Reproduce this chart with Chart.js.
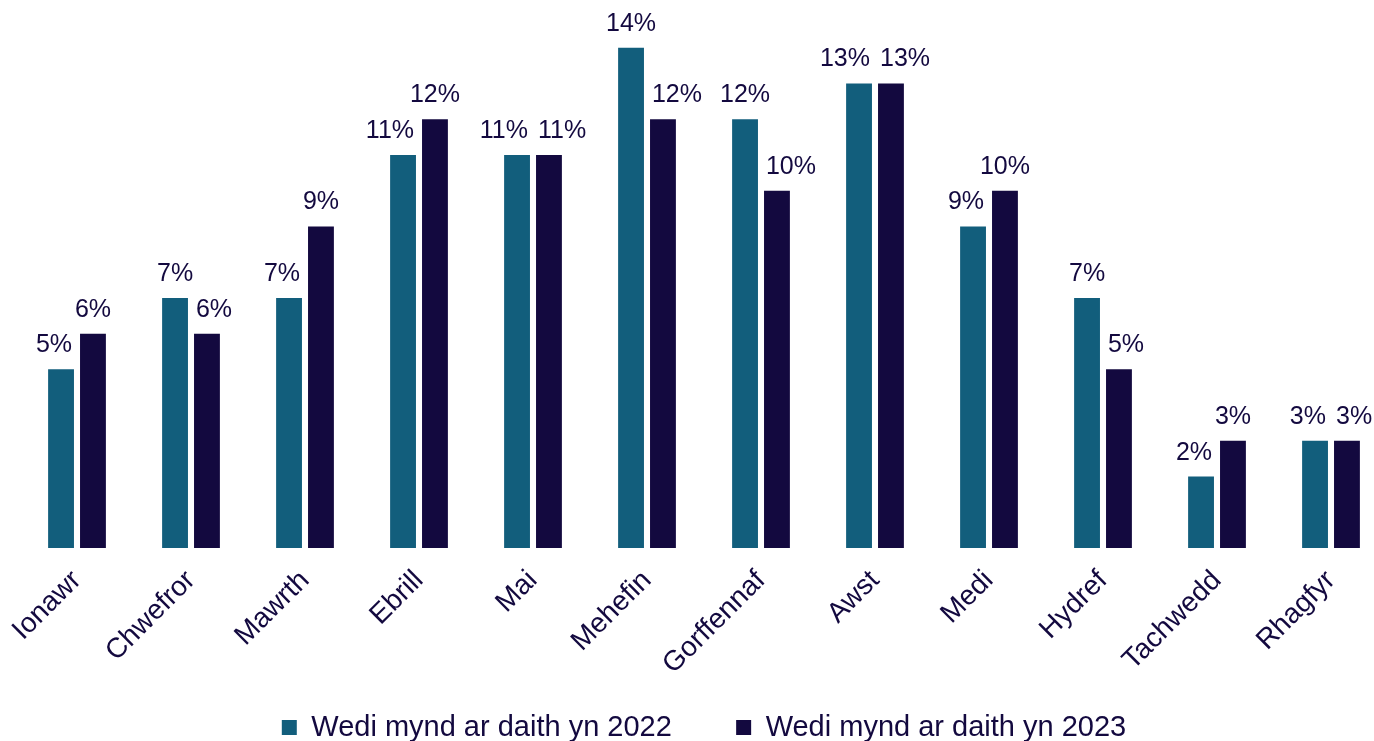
<!DOCTYPE html>
<html>
<head>
<meta charset="utf-8">
<script src="https://cdn.jsdelivr.net/npm/chart.js@4/dist/chart.umd.min.js"></script>
<style>
  html, body { margin: 0; padding: 0; background: #fff; overflow: hidden; }
  canvas { display: block; }
</style>
</head>
<body>
<canvas id="tripsChart" width="1390" height="741"></canvas>
<script>
var months = ['Ionawr', 'Chwefror', 'Mawrth', 'Ebrill', 'Mai', 'Mehefin',
              'Gorffennaf', 'Awst', 'Medi', 'Hydref', 'Tachwedd', 'Rhagfyr'];
var trips2022 = [5, 7, 7, 11, 11, 14, 12, 13, 9, 7, 2, 3];
var trips2023 = [6, 6, 9, 12, 11, 12, 10, 13, 10, 5, 3, 3];
var seriesNames = ['Wedi mynd ar daith yn 2022', 'Wedi mynd ar daith yn 2023'];

var navy = '#13093F';
var teal = '#125E7C';
var fontFamily = '"Liberation Sans", Arial, sans-serif';

// draws the "x%" text above every bar, nudged sideways when it would
// run into the neighbouring bar or the other label
var valueLabels = {
    id: 'valueLabels',
    afterDatasetsDraw: function(chart) {
        var ctx = chart.ctx;
        var barGap = 8, labelGap = 10, lift = 17, textH = 19;
        ctx.save();
        ctx.font = '25px ' + fontFamily;
        ctx.fillStyle = navy;
        ctx.textAlign = 'center';
        ctx.textBaseline = 'alphabetic';
        var d0 = chart.data.datasets[0].data, d1 = chart.data.datasets[1].data;
        var m0 = chart.getDatasetMeta(0).data, m1 = chart.getDatasetMeta(1).data;
        for (var j = 0; j < m0.length; j++) {
            var b0 = m0[j], b1 = m1[j];
            var t0 = d0[j] + '%', t1 = d1[j] + '%';
            var w0 = ctx.measureText(t0).width, w1 = ctx.measureText(t1).width;
            var x0 = b0.x, x1 = b1.x;
            var y0 = b0.y - lift, y1 = b1.y - lift;
            var b1left = b1.x - b1.width / 2, b0right = b0.x + b0.width / 2;
            if (y0 > b1.y && x0 + w0 / 2 > b1left - barGap) x0 = b1left - barGap - w0 / 2;
            if (y1 > b0.y && x1 - w1 / 2 < b0right + barGap) x1 = b0right + barGap + w1 / 2;
            if (Math.abs(y0 - y1) < textH && x0 + w0 / 2 + labelGap > x1 - w1 / 2) {
                var mid = (b0.x + b1.x) / 2;
                x0 = mid - labelGap / 2 - w0 / 2;
                x1 = mid + labelGap / 2 + w1 / 2;
            }
            ctx.fillText(t0, x0, y0);
            ctx.fillText(t1, x1, y1);
        }
        ctx.restore();
    }
};

new Chart('tripsChart', {
    type: 'bar',
    data: {
        labels: months,
        datasets: [{
            label: seriesNames[0] + '\u00a0\u00a0\u00a0\u00a0\u00a0',
            data: trips2022,
            backgroundColor: teal,
            borderWidth: 0,
            categoryPercentage: 0.56,
            barPercentage: 0.81
        }, {
            label: seriesNames[1],
            data: trips2023,
            backgroundColor: navy,
            borderWidth: 0,
            categoryPercentage: 0.56,
            barPercentage: 0.81
        }]
    },
    options: {
        responsive: false,
        animation: false,
        layout: {
            padding: { left: 20, right: 2, top: 12, bottom: -11 }
        },
        scales: {
            x: {
                grid: { display: false },
                border: { display: false },
                ticks: {
                    color: navy,
                    font: { family: fontFamily, size: 28 },
                    minRotation: 45,
                    maxRotation: 45,
                    autoSkip: false,
                    padding: 8
                }
            },
            y: {
                display: false,
                min: 0,
                max: 15
            }
        },
        plugins: {
            legend: {
                position: 'bottom',
                labels: {
                    color: navy,
                    font: { family: fontFamily, size: 29 },
                    boxWidth: 15,
                    boxHeight: 15,
                    padding: 24
                }
            },
            tooltip: { enabled: false }
        }
    },
    plugins: [valueLabels]
});
</script>
</body>
</html>
